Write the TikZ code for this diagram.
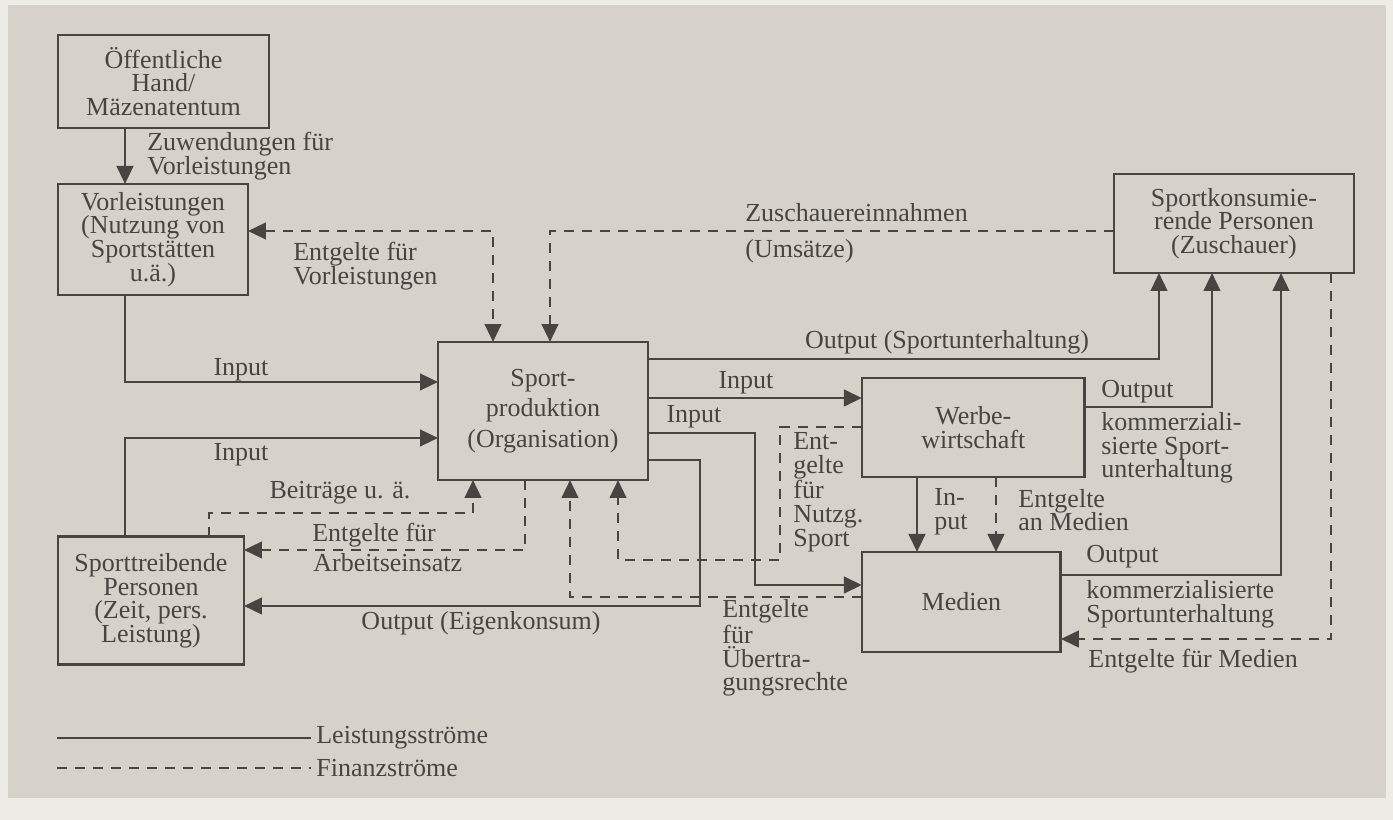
\documentclass[tikz,border=0pt]{standalone}
\usepackage{fontspec}
\setmainfont{Liberation Serif}
\usepackage{tikz}
\usetikzlibrary{arrows.meta, positioning}
\definecolor{ink}{RGB}{72,68,66}
\definecolor{scan}{RGB}{214,210,202}
\definecolor{paper}{RGB}{238,236,230}
\tikzstyle{flows}=[x=0.02cm, y=-0.02cm, >={Triangle[length=0.36cm,width=0.33cm]}, font=\fontsize{14.8}{13.5}\selectfont, text=ink]
\tikzstyle{box}=[draw=ink, line width=1.6pt, align=center, inner sep=2pt, outer sep=0pt]
\tikzstyle{flow}=[draw=ink, line width=1.6pt, ->]
\tikzstyle{money}=[flow, dash pattern=on 0.2cm off 0.16cm]
\tikzstyle{lbl}=[align=left, inner sep=0pt]

\begin{document}
\begin{tikzpicture}[flows]
  \useasboundingbox (0,0) rectangle (1393,820);
  \fill[paper] (0,0) rectangle (1393,820);
  \fill[scan] (8,5) rectangle (1386,798);

  % Kästen
  \node[box, minimum width=4.22cm, minimum height=1.86cm, anchor=north west] (oeff) at (58,35) {Öffentliche\\Hand/\\Mäzenatentum};
  \node[box, minimum width=3.8cm, minimum height=2.22cm, below=1.12cm of oeff.south west, anchor=north west] (vorl) {Vorleistungen\\(Nutzung von\\Sportstätten\\u.ä.)};
  \node[box, minimum width=3.72cm, minimum height=2.56cm, below=4.84cm of vorl.south west, anchor=north west] (treib) {Sporttreibende\\Personen\\(Zeit, pers.\\Leistung)};
  \node[box, minimum width=4.2cm, minimum height=2.76cm, anchor=north west] (prod) at (438,342) {Sport-\\[4pt]produktion\\[4pt](Organisation)};
  \node[box, minimum width=4.46cm, minimum height=1.98cm, below right=0.72cm and 4.28cm of prod.north east] (werb) {Werbe-\\wirtschaft};
  \node[box, minimum width=3.98cm, minimum height=2cm, below=1.5cm of werb.south west, anchor=north west] (medien) {Medien};
  \node[box, minimum width=4.8cm, minimum height=1.98cm, anchor=north west] (konsum) at (1114,174) {Sportkonsumie-\\rende Personen\\(Zuschauer)};

  % Leistungsströme
  \draw[flow] (oeff.south -| 125,0) -- (vorl.north -| 125,0);
  \draw[flow] (vorl.south -| 125,0) |- (prod.west |- 0,382);
  \draw[flow] (treib.north -| 125,0) |- (prod.west |- 0,438);
  \draw[flow] (prod.east |- 0,460) -| (700,606) -- (treib.east |- 0,606);
  \draw[flow] (prod.east |- 0,398) -- (werb.west |- 0,398);
  \draw[flow] (prod.east |- 0,433) -| (755,585) -- (medien.west |- 0,585);
  \draw[flow] (prod.east |- 0,359) -| (konsum.south -| 1159,0);
  \draw[flow] (werb.east |- 0,407) -| (konsum.south -| 1212,0);
  \draw[flow] (medien.east |- 0,575) -| (konsum.south -| 1281,0);
  \draw[flow] (werb.south -| 917,0) -- (medien.north -| 917,0);

  % Finanzströme
  \draw[money, <->] (vorl.east |- 0,231) -| (prod.north -| 493,0);
  \draw[money] (konsum.west |- 0,231) -| (prod.north -| 550,0);
  \draw[money] (treib.north -| 209,0) |- (473,513) -- (prod.south -| 473,0);
  \draw[money] (prod.south -| 525,0) |- (treib.east |- 0,550);
  \draw[money] (medien.west |- 0,597) -| (prod.south -| 570,0);
  \draw[money] (werb.west |- 0,427) -| (780,560) -| (prod.south -| 618,0);
  \draw[money] (werb.south -| 996,0) -- (medien.north -| 996,0);
  \draw[money] (konsum.south -| 1331,0) |- (medien.east |- 0,639);

  % Beschriftungen
  \node[lbl, anchor=west] (zuw) at (147,156) {Zuwendungen für\\Vorleistungen};
  \node[lbl, anchor=west] (evl) at (293,266) {Entgelte für\\Vorleistungen};
  \node[lbl, anchor=west] (zein) at (745,213) {Zuschauereinnahmen};
  \node[lbl, anchor=west] (ums) at (745,251) {(Umsätze)};
  \node[lbl] (outsu) at (947,342) {Output (Sportunterhaltung)};
  \node[lbl] (inw) at (746,383) {Input};
  \node[lbl] (inm) at (694,417) {Input};
  \node[lbl] (inv) at (241,370) {Input};
  \node[lbl] (inst) at (241,455) {Input};
  \node[lbl] (beitr) at (340,493) {Beiträge u. ä.};
  \node[lbl, anchor=west] (earb1) at (312,535) {Entgelte für};
  \node[lbl, anchor=west] (earb2) at (313,563) {Arbeitseinsatz};
  \node[lbl] (outek) at (481,623) {Output (Eigenkonsum)};
  \node[lbl, anchor=west] (enutz) at (793,492) {Ent-\\gelte\\für\\Nutzg.\\Sport};
  \node[lbl, anchor=west] (euebr) at (722,648) {Entgelte\\für\\Übertra-\\gungsrechte};
  \node[lbl, anchor=west] (outw) at (1101,392) {Output};
  \node[lbl, anchor=west] (komw) at (1101,448) {kommerziali-\\sierte Sport-\\unterhaltung};
  \node[lbl, anchor=west] (inwm) at (934,512) {In-\\put};
  \node[lbl, anchor=west] (eanm) at (1018,510) {Entgelte\\an Medien};
  \node[lbl, anchor=west] (outm) at (1086,557) {Output};
  \node[lbl, anchor=west] (komm) at (1086,604) {kommerzialisierte\\Sportunterhaltung};
  \node[lbl, anchor=west] (efm) at (1088,661) {Entgelte für Medien};

  % Legende
  \coordinate (leg1) at (57,738);
  \coordinate (leg2) at (57,768);
  \node[lbl, anchor=west] (legls) at (316,738) {Leistungsströme};
  \node[lbl, anchor=west] (legfs) at (316,768) {Finanzströme};
  \draw[draw=ink, line width=1.6pt, shorten >=3pt] (leg1) -- (legls.west);
  \draw[draw=ink, line width=1.6pt, shorten >=3pt, dash pattern=on 0.2cm off 0.16cm] (leg2) -- (legfs.west);
\end{tikzpicture}
\end{document}
